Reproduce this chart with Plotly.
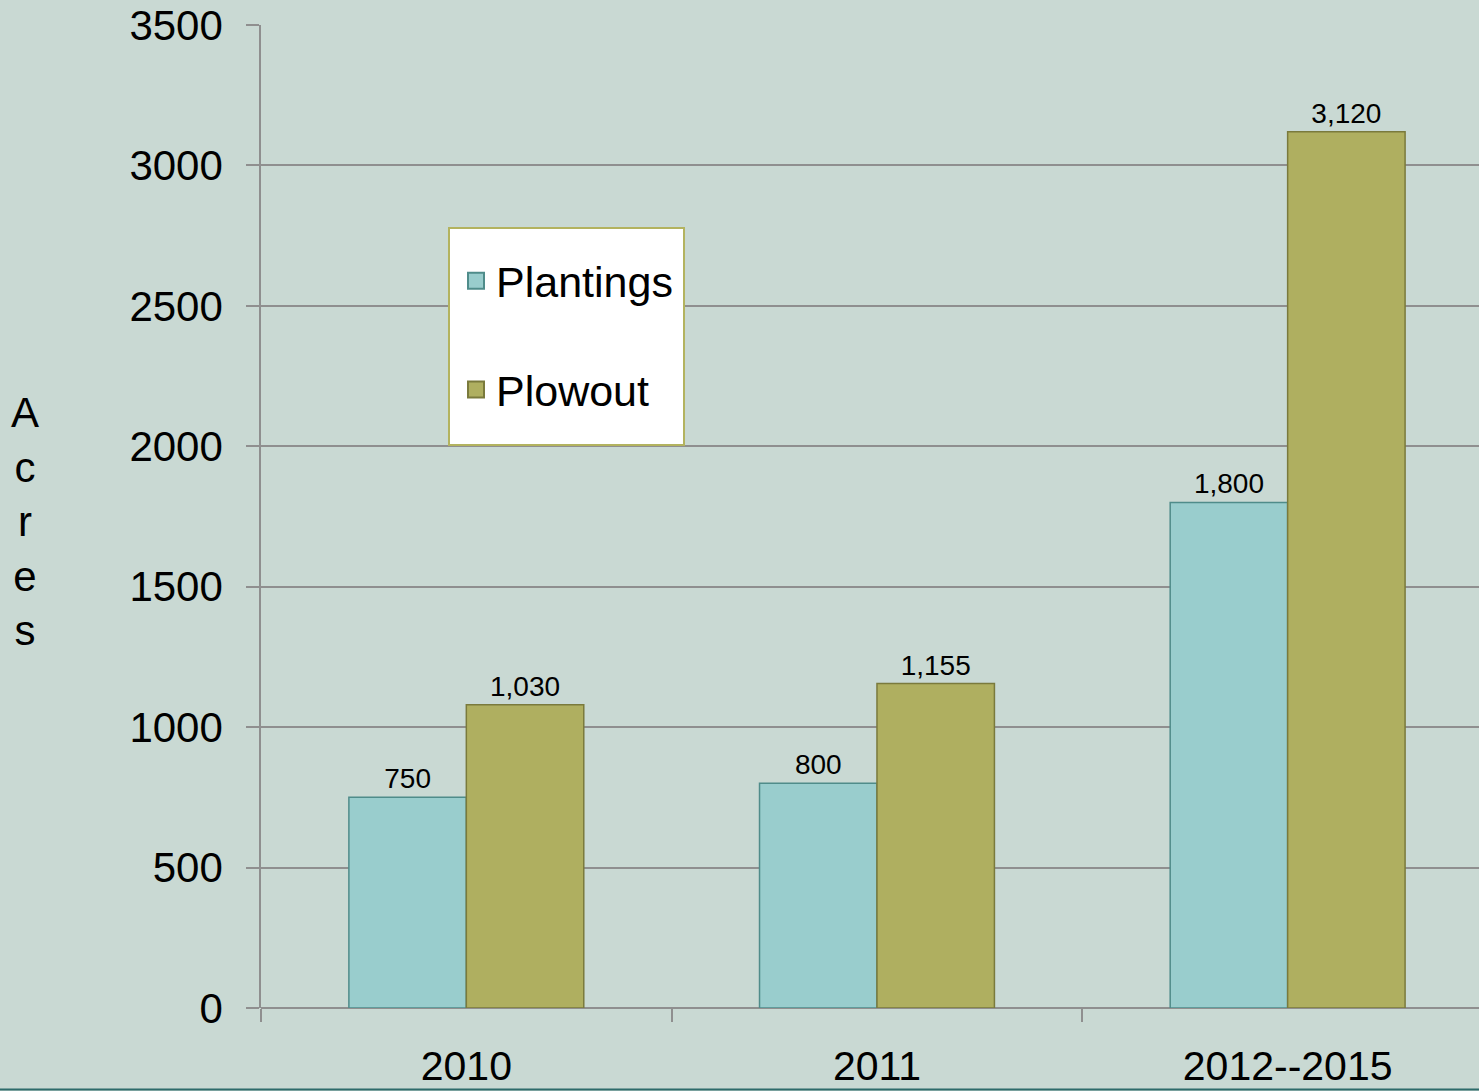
import plotly.graph_objects as go

categories = ["2010", "2011", "2012--2015"]
plantings = [750, 800, 1800]
plowout = [1080, 1155, 3120]
plantings_labels = ["750", "800", "1,800"]
plowout_labels = ["1,030", "1,155", "3,120"]
y_ticks = [0, 500, 1000, 1500, 2000, 2500, 3000, 3500]

FONT = "Liberation Sans, Arial, sans-serif"
BG = "#C9D9D3"
PLANT_FILL = "#99CDCD"
PLANT_EDGE = "#4F8C8A"
PLOW_FILL = "#AFAF60"
PLOW_EDGE = "#7A7A3C"
GRID = "#8F8F8F"

fig = go.Figure()
fig.add_trace(go.Bar(
    x=categories, y=plantings, name="Plantings",
    marker=dict(color=PLANT_FILL, line=dict(color=PLANT_EDGE, width=1.5)),
    text=plantings_labels, textposition="outside",
    textfont=dict(size=28, color="black", family=FONT),
    showlegend=False, cliponaxis=False,
))
fig.add_trace(go.Bar(
    x=categories, y=plowout, name="Plowout",
    marker=dict(color=PLOW_FILL, line=dict(color=PLOW_EDGE, width=1.5)),
    text=plowout_labels, textposition="outside",
    textfont=dict(size=28, color="black", family=FONT),
    showlegend=False, cliponaxis=False,
))
# legend entries
fig.add_trace(go.Scatter(
    x=[None], y=[None], mode="markers", name="Plantings", legendgroup="a",
    marker=dict(symbol="square", size=16, color=PLANT_FILL,
                line=dict(color=PLANT_EDGE, width=2)),
))
fig.add_trace(go.Scatter(
    x=[None], y=[None], mode="markers", name="Plowout", legendgroup="b",
    marker=dict(symbol="square", size=16, color=PLOW_FILL,
                line=dict(color=PLOW_EDGE, width=2)),
))

PW, PH = 1218, 983  # plot area size in px

fig.update_layout(
    width=1479, height=1091,
    margin=dict(l=261, r=0, t=25, b=83, autoexpand=False),
    paper_bgcolor=BG, plot_bgcolor=BG,
    font=dict(family=FONT, color="black"),
    barmode="group", bargap=0.428, bargroupgap=0,
    showlegend=True,
    legend=dict(
        x=(456 - 261) / PW, y=(1008 - 228) / PH, xanchor="left", yanchor="top",
        bgcolor="rgba(0,0,0,0)", borderwidth=0,
        font=dict(size=43, family=FONT, color="black"),
        traceorder="grouped", tracegroupgap=50,
        title=dict(text=" ", font=dict(size=14)),
    ),
    xaxis=dict(
        range=[-0.5, 2.466], showgrid=False,
        showline=False, zeroline=False, automargin=False,
        ticks="outside", tickson="boundaries", ticklen=13, tickwidth=1.5,
        tickcolor=GRID,
        tickfont=dict(size=41, family=FONT, color="black"),
        ticklabelstandoff=30,
    ),
    yaxis=dict(
        range=[0, 3500], tickvals=y_ticks, automargin=False,
        showgrid=True, gridcolor=GRID, gridwidth=1.5,
        showline=True, linecolor=GRID, linewidth=1.5,
        zeroline=True, zerolinecolor=GRID, zerolinewidth=1.5,
        ticks="outside", ticklen=13, tickwidth=1.5, tickcolor=GRID,
        tickfont=dict(size=42, family=FONT, color="black"),
        ticklabelstandoff=15,
    ),
)

# legend box
fig.add_shape(
    type="rect", xref="paper", yref="paper", layer="above",
    x0=(449 - 261) / PW, x1=(684 - 261) / PW,
    y0=(1008 - 445) / PH, y1=(1008 - 228) / PH,
    fillcolor="white", line=dict(color="#B3B35F", width=2),
)

fig.add_annotation(
    xref="paper", yref="paper",
    x=(25 - 261) / PW, y=(1008 - 521) / PH,
    xanchor="center", yanchor="middle",
    text="A<br>c<br>r<br>e<br>s", showarrow=False,
    font=dict(size=42, family=FONT, color="black"),
)

fig.add_shape(
    type="line", xref="paper", yref="paper",
    x0=-261 / PW, x1=1, y0=-81.5 / PH, y1=-81.5 / PH,
    line=dict(color="#2D6B6A", width=2),
)

fig.write_html("out.html", config={"displayModeBar": False},
               post_script="document.body.style.margin='0';")
